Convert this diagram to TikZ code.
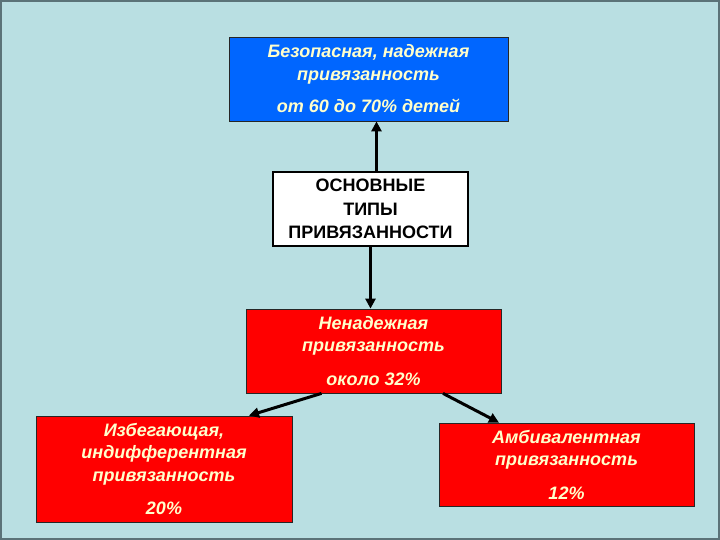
\documentclass[tikz,border=0pt]{standalone}
\usepackage{fontspec}
\setmainfont{Liberation Sans}
\usetikzlibrary{arrows.meta}
\definecolor{backgr}{HTML}{B9DFE2}
\definecolor{frame}{HTML}{5B7378}
\definecolor{boxblue}{HTML}{0066FF}
\definecolor{boxred}{HTML}{FF0000}
\definecolor{cream}{HTML}{FFFFCC}
\tikzset{
  typebox/.style={draw=black!85,line width=.8pt,align=center,inner sep=0pt,
    text=cream,font=\bfseries\itshape\fontsize{18}{22.5}\selectfont},
  arr/.style={line width=3pt,-{Triangle[width=10pt,length=10pt]}}
}

\begin{document}
\begin{tikzpicture}[x=1pt,y=-1pt]
  \fill[backgr] (0,0) rectangle (720,540);
  \draw[frame,line width=2pt] (1,1) rectangle (719,539);
  % boxes
  \node[typebox,fill=boxblue,minimum width=279,minimum height=84] (secure) at (368.5,79)
    {Безопасная, надежная\\привязанность\\[10pt]от 60 до 70\% детей};
  \node[draw,line width=2.6pt,fill=white,minimum width=195,minimum height=74,
    align=center,inner sep=0pt,font=\bfseries\fontsize{18}{23.5}\selectfont] (types) at (370.5,209)
    {ОСНОВНЫЕ\\ТИПЫ\\ПРИВЯЗАННОСТИ};
  \node[typebox,fill=boxred,minimum width=255,minimum height=84] (unsafe) at (373.5,351)
    {Ненадежная\\привязанность\\[11pt]около 32\%};
  \node[typebox,fill=boxred,minimum width=256,minimum height=106] (avoid) at (164,469)
    {Избегающая,\\индифферентная\\привязанность\\[11pt]20\%};
  \node[typebox,fill=boxred,minimum width=255,minimum height=83] (ambiv) at (566.5,464.5)
    {Амбивалентная\\привязанность\\[11pt]12\%};
  % arrows
  \draw[arr] ([xshift=6]types.north) -- ([xshift=6]types.north |- secure.south);
  \draw[arr] (types.south) -- (types.south |- unsafe.north);
  \draw[arr] ([xshift=-52]unsafe.south) -- ([xshift=85]avoid.north);
  \draw[arr] ([xshift=69.5]unsafe.south) -- ([xshift=-67.5]ambiv.north);
\end{tikzpicture}
\end{document}
